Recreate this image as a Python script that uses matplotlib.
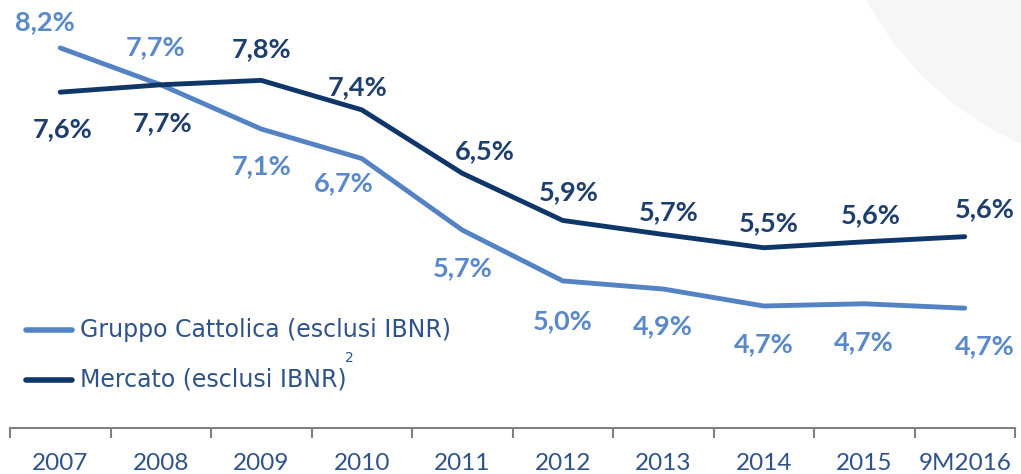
import matplotlib
matplotlib.use("Agg")
import matplotlib.pyplot as plt
from matplotlib.patches import Ellipse
from matplotlib.lines import Line2D
from matplotlib.ticker import FixedLocator

categories = ["2007", "2008", "2009", "2010", "2011", "2012", "2013", "2014", "2015", "9M2016"]
cattolica = [8.2, 7.7, 7.1, 6.7, 5.73, 5.04, 4.93, 4.7, 4.73, 4.67]
mercato = [7.6, 7.7, 7.76, 7.36, 6.5, 5.86, 5.67, 5.49, 5.57, 5.64]
series_names = ["Gruppo Cattolica (esclusi IBNR)", "Mercato (esclusi IBNR)"]

# label offsets in pixels (styling)
cat_off = [(-15, 26), (-5, 38), (0, -37), (-18, -25), (0, -38), (0, -40), (0, -37), (0, -38), (0, -38), (20, -38)]
mer_off = [(2, -37), (2, -38), (0, 31), (-4, 23), (23, 22), (6, 28), (5, 22), (5, 25), (6, 27), (20, 28)]

LIGHT = "#5383C3"
DARK = "#0F3668"
LIGHT_TXT = "#5A89C9"
DARK_TXT = "#1E3E6E"
AX_TXT = "#2F5389"

plt.rcParams["font.family"] = ["Lato", "DejaVu Sans"]

W, H = 1021, 474
fig = plt.figure(figsize=(W / 100, H / 100), dpi=100)
fig.patches.append(Ellipse((1150 / W, (H + 150) / H), 640 / W, 640 / H,
                           transform=fig.transFigure, color="#F6F6F7", zorder=0))

ax = fig.add_axes([10 / W, 46 / H, 1005 / W, 428 / H])
ax.set_facecolor("none")
x = list(range(len(categories)))
ax.plot(x, cattolica, color=LIGHT, lw=3.5, solid_capstyle="round", label=series_names[0])
ax.plot(x, mercato, color=DARK, lw=3.5, solid_capstyle="round", label=series_names[1])
ax.set_xlim(-0.5, len(categories) - 0.5)
ax.set_ylim(3.045, 8.85)

def fmt(v):
    return f"{v:.1f}".replace(".", ",") + "%"

for i, v in enumerate(cattolica):
    ax.annotate(fmt(v), (i, v), xytext=cat_off[i], textcoords="offset pixels",
                ha="center", va="center", fontsize=19.5, fontweight="bold", color=LIGHT_TXT)
for i, v in enumerate(mercato):
    ax.annotate(fmt(v), (i, v), xytext=mer_off[i], textcoords="offset pixels",
                ha="center", va="center", fontsize=19.5, fontweight="bold", color=DARK_TXT)

for s in ["top", "left", "right"]:
    ax.spines[s].set_visible(False)
ax.spines["bottom"].set_color("#808080")
ax.spines["bottom"].set_linewidth(1.5)
ax.set_yticks([])
ax.set_xticks(x)
ax.set_xticklabels(categories, fontsize=17.5, color=AX_TXT)
ax.tick_params(axis="x", which="major", length=0, pad=18)
ax.xaxis.set_minor_locator(FixedLocator([i - 0.5 for i in range(len(categories) + 1)]))
ax.tick_params(axis="x", which="minor", length=7, width=1.5, color="#808080", direction="out")

# legend (manual)
leg_y = [330, 380]
leg_col = [LIGHT, DARK]
for yy, col, name in zip(leg_y, leg_col, series_names):
    fig.add_artist(Line2D([26 / W, 72 / W], [1 - yy / H, 1 - yy / H], transform=fig.transFigure,
                          color=col, lw=4, solid_capstyle="round"))
    fig.text(80 / W, 1 - yy / H, name, fontsize=17, color=AX_TXT, ha="left", va="center",
             family=["DejaVu Sans"])
fig.text(349 / W, 1 - 358 / H, "2", fontsize=10, color=AX_TXT, ha="center", va="center",
         family=["DejaVu Sans"])

fig.savefig("out.png", dpi=100)
